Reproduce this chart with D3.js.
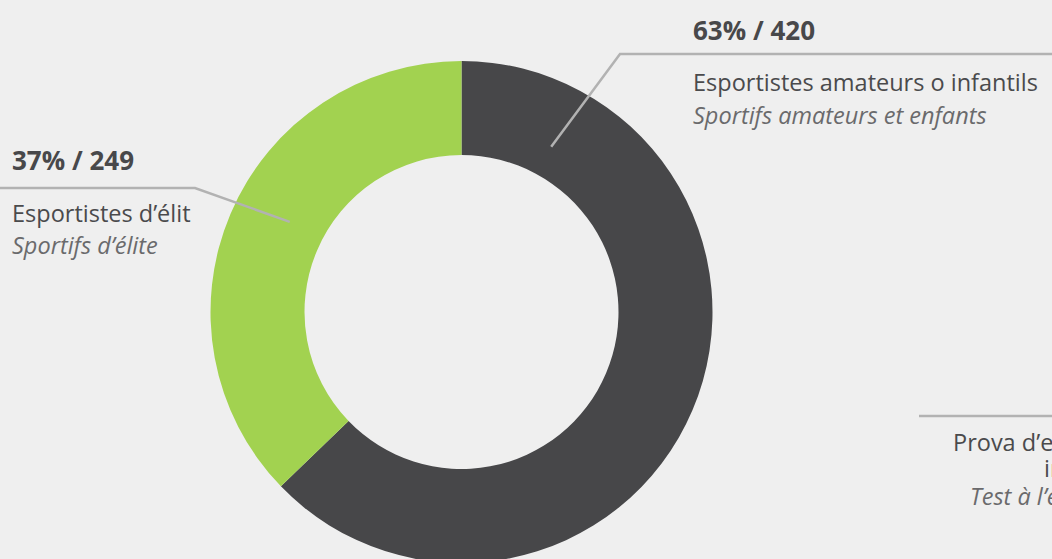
<!DOCTYPE html>
<html>
<head>
<meta charset="utf-8">
<script src="https://cdn.jsdelivr.net/npm/d3@7"></script>
<style>
  html, body { margin: 0; padding: 0; background: #efefef; overflow: hidden; }
  svg { display: block; font-family: "Open Sans", sans-serif; }
</style>
</head>
<body>
<div id="chart"></div>
<script>
// data
const categories = ["Esportistes amateurs o infantils", "Esportistes d\u2019\u00e9lit"];
const categoriesFr = ["Sportifs amateurs et enfants", "Sportifs d\u2019\u00e9lite"];
const counts = [420, 249];
const percents = [63, 37];
const colors = ["#474749", "#a2d250"];

window.onload = function() {
  const width = 1052, height = 559;
  const cx = 461.5, cy = 312;
  const outerR = 251, innerR = 157;

  const svg = d3.select("#chart")
    .append("svg")
      .attr("width", width)
      .attr("height", height);

  const g = svg.append("g")
    .attr("transform", `translate(${cx}, ${cy})`);

  const pie = d3.pie().sort(null).value(d => d);
  const arc = d3.arc().innerRadius(innerR).outerRadius(outerR);

  g.selectAll("path.slice")
    .data(pie(counts))
    .enter()
    .append("path")
      .attr("class", "slice")
      .attr("d", arc)
      .attr("fill", (d, i) => colors[i]);

  // leader lines (angle in degrees clockwise from top, radius of inner end)
  const leaders = [
    {angle: 28.5, r: 188, elbow: [620, 54], end: [1052, 54]},
    {angle: 297.7, r: 194, elbow: [195, 188], end: [0, 188]}
  ];
  leaders.forEach(l => {
    const a = l.angle * Math.PI / 180;
    const p0 = [cx + l.r * Math.sin(a), cy - l.r * Math.cos(a)];
    svg.append("polyline")
      .attr("points", [p0, l.elbow, l.end].map(p => p.join(",")).join(" "))
      .attr("fill", "none")
      .attr("stroke", "#b2b2b2")
      .attr("stroke-width", 2.5);
  });

  // labels
  const labelPos = [
    {x: 693, y: [40, 91, 124]},
    {x: 12, y: [170, 222, 254]}
  ];
  labelPos.forEach((p, i) => {
    svg.append("text")
      .attr("x", p.x).attr("y", p.y[0])
      .attr("font-size", 26).attr("font-weight", 700)
      .attr("fill", "#48484a")
      .text(`${percents[i]}% / ${counts[i]}`);
    svg.append("text")
      .attr("x", p.x).attr("y", p.y[1])
      .attr("font-size", 23.5)
      .attr("fill", "#4a4a4c")
      .text(categories[i]);
    svg.append("text")
      .attr("x", p.x).attr("y", p.y[2])
      .attr("font-size", 23.5).attr("font-style", "italic")
      .attr("fill", "#6a6a6c")
      .text(categoriesFr[i]);
  });

  // partial label at bottom right (cut off by the frame, as in the original)
  svg.append("line")
    .attr("x1", 919).attr("x2", 1052)
    .attr("y1", 416).attr("y2", 416)
    .attr("stroke", "#b2b2b2").attr("stroke-width", 2.5);
  svg.append("text")
    .attr("x", 953).attr("y", 451)
    .attr("font-size", 23.5).attr("fill", "#4a4a4c")
    .text("Prova d\u2019esfor\u00e7");
  svg.append("text")
    .attr("x", 1044).attr("y", 477)
    .attr("font-size", 23.5).attr("fill", "#4a4a4c")
    .text("incremental");
  svg.append("text")
    .attr("x", 970).attr("y", 505)
    .attr("font-size", 23.5).attr("font-style", "italic").attr("fill", "#6a6a6c")
    .text("Test \u00e0 l\u2019effort");
};
</script>
</body>
</html>
